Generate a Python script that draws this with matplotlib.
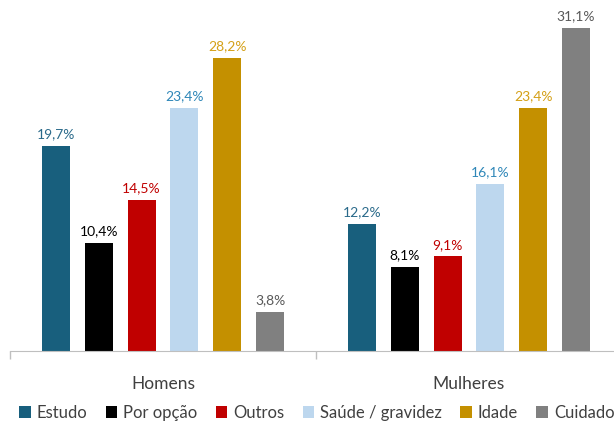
import matplotlib
matplotlib.use("Agg")
import matplotlib.pyplot as plt
import numpy as np

plt.rcParams['font.family'] = ['Lato', 'DejaVu Sans']

groups = ["Homens", "Mulheres"]
series = ["Estudo", "Por opção", "Outros", "Saúde / gravidez", "Idade", "Cuidados"]
homens = [19.7, 10.4, 14.5, 23.4, 28.2, 3.8]
mulheres = [12.2, 8.1, 9.1, 16.1, 23.4, 31.1]
bar_colors = ["#185F7D", "#000000", "#C00000", "#BDD7EE", "#C49000", "#808080"]
label_colors = ["#2A6A8A", "#000000", "#C00000", "#2F87B8", "#D4A017", "#595959"]

W, H = 614, 423
fig = plt.figure(figsize=(W / 100, H / 100), dpi=100)
# axes runs past the right edge, as in the reference
ax = fig.add_axes([10 / W, (H - 351) / H, 612 / W, 351 / H])

x = np.arange(len(groups))
width = 0.092
step = 0.1400
for i, name in enumerate(series):
    vals = [homens[i], mulheres[i]]
    pos = x + (i - 2.5) * step
    ax.bar(pos, vals, width, color=bar_colors[i], label=name)
    for p, v in zip(pos, vals):
        ax.text(p, v + 0.55, f"{v:.1f}%".replace(".", ","), ha="center", va="bottom",
                fontsize=10, color=label_colors[i])

ax.set_xlim(-0.5, 1.5)
ax.set_ylim(0, 351 / 10.39)
for s in ["top", "right", "left"]:
    ax.spines[s].set_visible(False)
ax.spines["bottom"].set_color("#BFBFBF")
ax.set_yticks([])
ax.set_xticks([-0.5, 0.5, 1.5])
ax.set_xticklabels([])
ax.tick_params(axis="x", length=6, color="#BFBFBF", width=1)
for xi, g in zip(x, groups):
    ax.annotate(g, (xi, 0), xytext=(0, -24), textcoords="offset points",
                ha="center", va="center", fontsize=12.5, color="#404040",
                annotation_clip=False)

fig.legend(loc="center left", bbox_to_anchor=(19 / W, 10 / H), ncol=6, frameon=False,
           fontsize=12, handlelength=0.7, handleheight=0.7, handletextpad=0.35,
           columnspacing=1.1, labelcolor="#404040", borderaxespad=0, borderpad=0)

fig.savefig("out.png", dpi=100)
